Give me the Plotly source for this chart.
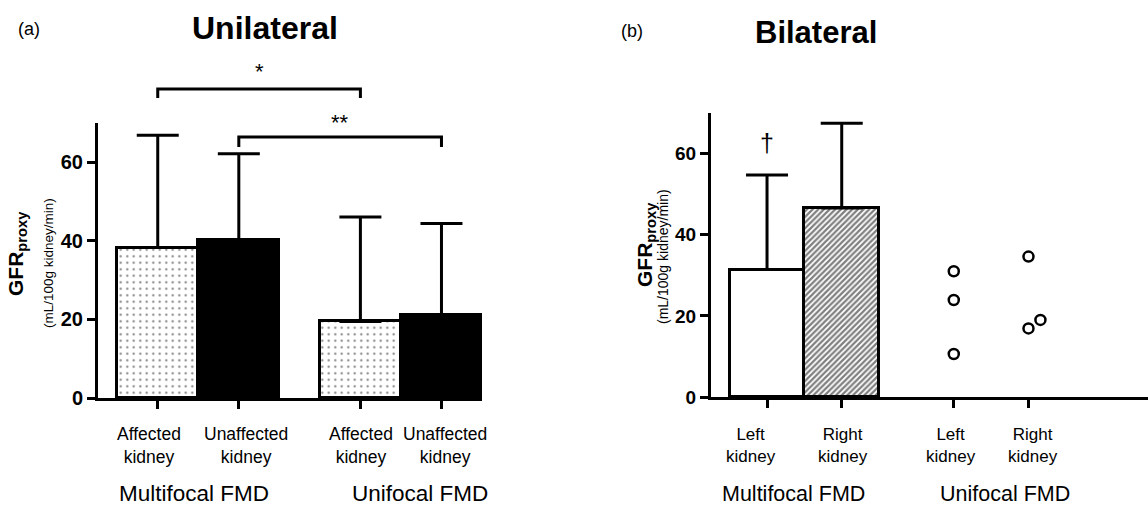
import plotly.graph_objects as go

# ---------------- data ----------------
a_tick_labels = ["Affected<br>kidney", "Unaffected<br>kidney", "Affected<br>kidney", "Unaffected<br>kidney"]
a_groups = ["Multifocal FMD", "Unifocal FMD"]
a_affected_mean = [38.3, 19.5]
a_affected_sd = [28.6, 26.6]
a_unaffected_mean = [40.3, 21.2]
a_unaffected_sd = [21.9, 23.2]

b_tick_labels = ["Left<br>kidney", "Right<br>kidney", "Left<br>kidney", "Right<br>kidney"]
b_groups = ["Multifocal FMD", "Unifocal FMD"]
b_multi_left_mean = [31.4]
b_multi_left_sd = [23.3]
b_multi_right_mean = [46.6]
b_multi_right_sd = [20.9]
b_uni_left = [31.0, 23.9, 10.6]
b_uni_right = [34.6, 16.9, 19.0]
b_uni_right_jitter = [0.0, 0.0, 0.16]

# category positions on numeric axis (two groups of two)
pos = [0, 1, 2.5, 3.5]

# ---------------- layout helpers ----------------
W, H = 1148, 508
FONT = "Liberation Sans, Arial, sans-serif"


def px(x):
    return x / W


def py(y):
    return 1 - y / H


A_DOM_X = [px(98), px(482)]
A_DOM_Y = [py(398), py(123)]
B_DOM_X = [px(711), px(1148)]
B_DOM_Y = [py(397), py(113)]
YR = [0, 70]

fig = go.Figure()
err_style = dict(type="data", symmetric=False, thickness=3, width=21, color="black")

# ---- panel (a) ----
fig.add_trace(go.Bar(
    x=[pos[0], pos[2]], y=a_affected_mean, width=1,
    marker=dict(color="white", line=dict(color="black", width=3),
                pattern=dict(shape=".", fgcolor="black", bgcolor="white", size=6.5, solidity=0.09)),
    error_y=dict(array=a_affected_sd, arrayminus=[0, 0], **err_style),
    xaxis="x", yaxis="y", showlegend=False))
fig.add_trace(go.Bar(
    x=[pos[1], pos[3]], y=a_unaffected_mean, width=1,
    marker=dict(color="black", line=dict(color="black", width=3)),
    error_y=dict(array=a_unaffected_sd, arrayminus=[0, 0], **err_style),
    xaxis="x", yaxis="y", showlegend=False))

# ---- panel (b) ----
fig.add_trace(go.Bar(
    x=[pos[0]], y=b_multi_left_mean, width=1,
    marker=dict(color="white", line=dict(color="black", width=3)),
    error_y=dict(array=b_multi_left_sd, arrayminus=[0], **err_style),
    xaxis="x2", yaxis="y2", showlegend=False))
fig.add_trace(go.Bar(
    x=[pos[1]], y=b_multi_right_mean, width=1,
    marker=dict(color="white", line=dict(color="black", width=3),
                pattern=dict(shape="/", fgcolor="black", bgcolor="white", size=4, solidity=0.55)),
    error_y=dict(array=b_multi_right_sd, arrayminus=[0], **err_style),
    xaxis="x2", yaxis="y2", showlegend=False))
fig.add_trace(go.Scatter(
    x=[pos[2]] * len(b_uni_left), y=b_uni_left, mode="markers",
    marker=dict(symbol="circle-open", size=10, color="black", line=dict(width=2.5, color="black")),
    xaxis="x2", yaxis="y2", showlegend=False, cliponaxis=False))
fig.add_trace(go.Scatter(
    x=[pos[3] + j for j in b_uni_right_jitter], y=b_uni_right, mode="markers",
    marker=dict(symbol="circle-open", size=10, color="black", line=dict(width=2.5, color="black")),
    xaxis="x2", yaxis="y2", showlegend=False, cliponaxis=False))

axis_common = dict(showline=True, linecolor="black", linewidth=3, ticks="outside",
                   ticklen=8, tickwidth=3, tickcolor="black", showgrid=False, zeroline=False,
                   automargin=False)

fig.update_layout(
    width=W, height=H, margin=dict(l=0, r=0, t=0, b=0, pad=0, autoexpand=False),
    paper_bgcolor="white", plot_bgcolor="white",
    barmode="overlay", bargap=0,
    font=dict(family=FONT, color="black"),
    xaxis=dict(domain=A_DOM_X, range=[-0.737, 4.0], tickvals=pos, showticklabels=False,
               anchor="y", **axis_common),
    yaxis=dict(domain=A_DOM_Y, range=YR, tickvals=[0, 20, 40, 60], anchor="x",
               tickfont=dict(size=20, family=FONT, weight="bold", color="black"), **axis_common),
    xaxis2=dict(domain=B_DOM_X, range=[-0.75, 5.1], tickvals=pos, showticklabels=False,
                anchor="y2", **axis_common),
    yaxis2=dict(domain=B_DOM_Y, range=YR, tickvals=[0, 20, 40, 60], anchor="x2",
                tickfont=dict(size=19, family=FONT, weight="bold", color="black"), **axis_common),
)

ann = []


def text(x, y, t, size, xref="paper", yref="paper", bold=False, angle=0, xshift=0, yanchor="middle"):
    ann.append(dict(x=x, y=y, xref=xref, yref=yref, text=t, showarrow=False,
                    xanchor="center", yanchor=yanchor, textangle=angle, xshift=xshift,
                    font=dict(size=size, family=FONT, color="black",
                              weight="bold" if bold else "normal")))


# titles
text(px(29), py(29), "(a)", 18)
text(px(265), py(28), "Unilateral", 32, bold=True)
text(px(632), py(31), "(b)", 18)
text(px(816), py(32), "Bilateral", 31, bold=True)

# y axis titles
text(px(17), py(254), "GFR<sub>proxy</sub>", 21, bold=True, angle=-90)
text(px(48), py(263), "(mL/100g kidney/min)", 13.5, angle=-90)
text(px(646), py(245), "GFR<sub>proxy</sub>", 21, bold=True, angle=-90)
text(px(663), py(257), "(mL/100g kidney/min)", 14, angle=-90)

# category labels
a_shift = [-9, 7, 1, 4]
for p, lab, s in zip(pos, a_tick_labels, a_shift):
    text(p, py(445), lab, 17.5, xref="x", xshift=s)
b_shift = [-16, 1, -3, 5]
for p, lab, s in zip(pos, b_tick_labels, b_shift):
    text(p, py(445), lab, 17, xref="x2", xshift=s)

# group labels (anchored on the bottom edge of the figure)
text(0.45, 0, a_groups[0], 22.5, xref="x", yanchor="bottom")
text(3.24, 0, a_groups[1], 22.5, xref="x", yanchor="bottom")
text(0.35, 0, b_groups[0], 21.5, xref="x2", yanchor="bottom")
text(3.19, 0, b_groups[1], 21.5, xref="x2", yanchor="bottom")

# significance markers
text((pos[0] + pos[2]) / 2, py(72), "*", 22, xref="x")
text((pos[1] + pos[3]) / 2, py(122), "**", 22, xref="x")
text(pos[0], 62.5, "†", 25, xref="x2", yref="y2")

fig.update_layout(annotations=ann)

# brackets
shapes = []


def bracket(x0, x1, ytop, ybot):
    shapes.append(dict(type="path", xref="x", yref="paper",
                       path=f"M {x0},{py(ybot)} L {x0},{py(ytop)} L {x1},{py(ytop)} L {x1},{py(ybot)}",
                       line=dict(color="black", width=3)))


bracket(pos[0], pos[2], 89, 98)
bracket(pos[1], pos[3], 137, 147)
fig.update_layout(shapes=shapes)

fig.write_html("out.html", post_script="document.body.style.margin='0';",
               config={"displayModeBar": False})
